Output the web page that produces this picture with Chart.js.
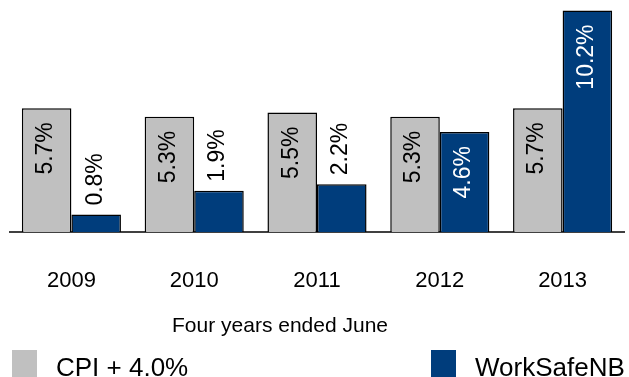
<!DOCTYPE html>
<html>
<head>
<meta charset="utf-8">
<script src="https://cdn.jsdelivr.net/npm/chart.js@4/dist/chart.umd.min.js"></script>
<style>
  html, body { margin: 0; padding: 0; background: #fff; }
  #wrap { width: 629px; height: 377px; position: relative; }
</style>
</head>
<body>
<div id="wrap"><canvas id="c"></canvas></div>
<script>
// Return growth by year, percent
const years = ['2009', '2010', '2011', '2012', '2013'];
const cpiPlus4 = [5.7, 5.3, 5.5, 5.3, 5.7];
const workSafeNB = [0.8, 1.9, 2.2, 4.6, 10.2];
const seriesNames = ['CPI + 4.0%', 'WorkSafeNB'];
const axisTitle = 'Four years ended June';

const FONT = '"Liberation Sans", Arial, Helvetica, sans-serif';
const GREY = '#C0C0C0';
const BLUE = '#003D7C';

// Rotated value labels: inside the bar top when it fits, otherwise above it
const valueLabels = {
  id: 'valueLabels',
  afterDatasetsDraw(chart) {
    const ctx = chart.ctx;
    ctx.save();
    ctx.font = '23px ' + FONT;
    ctx.textBaseline = 'middle';
    chart.data.datasets.forEach((ds, di) => {
      const meta = chart.getDatasetMeta(di);
      meta.data.forEach((bar, i) => {
        const v = ds.data[i];
        const txt = v.toFixed(1) + '%';
        const w = ctx.measureText(txt).width;
        const h = bar.base - bar.y;
        const inside = h > w + 24;
        ctx.save();
        ctx.translate(bar.x - 1, inside ? bar.y + 14 : bar.y - 9);
        ctx.rotate(-Math.PI / 2);
        if (inside) {
          ctx.textAlign = 'right';
          ctx.fillStyle = di === 1 ? '#ffffff' : '#000000';
        } else {
          ctx.textAlign = 'left';
          ctx.fillStyle = '#000000';
        }
        ctx.fillText(txt, 0, 0);
        ctx.restore();
      });
    });
    ctx.restore();
  }
};

// Axis caption and legend row under the categories
const footer = {
  id: 'footer',
  afterDraw(chart) {
    const ctx = chart.ctx;
    ctx.save();
    ctx.fillStyle = '#000';
    ctx.textBaseline = 'alphabetic';
    ctx.textAlign = 'center';
    ctx.font = '21px ' + FONT;
    ctx.fillText(axisTitle, 280, 332);

    const items = [
      { x: 12, text: chart.data.datasets[0].label, color: chart.data.datasets[0].backgroundColor },
      { x: 431, text: chart.data.datasets[1].label, color: chart.data.datasets[1].backgroundColor }
    ];
    ctx.textAlign = 'left';
    ctx.font = '26px ' + FONT;
    items.forEach(it => {
      ctx.fillStyle = it.color;
      ctx.fillRect(it.x, 350, 25, 27);
      ctx.fillStyle = '#000';
      ctx.fillText(it.text, it.x + 44, 376);
    });
    ctx.restore();
  }
};

new Chart(document.getElementById('c'), {
  type: 'bar',
  data: {
    labels: years,
    datasets: [
      {
        label: seriesNames[0],
        data: cpiPlus4,
        backgroundColor: GREY,
        borderColor: '#000',
        borderWidth: 1.5
      },
      {
        label: seriesNames[1],
        data: workSafeNB,
        backgroundColor: BLUE,
        borderColor: '#000',
        borderWidth: 1.5
      }
    ]
  },
  options: {
    responsive: true,
    maintainAspectRatio: false,
    animation: false,
    devicePixelRatio: 1,
    layout: { padding: { left: 10, right: 5, top: 0, bottom: 0 } },
    plugins: {
      legend: { display: false },
      tooltip: { enabled: false }
    },
    datasets: {
      bar: { barPercentage: 1, categoryPercentage: 0.807 }
    },
    scales: {
      x: {
        grid: { display: false, drawTicks: false },
        border: { display: true, color: '#404040', width: 2 },
        ticks: {
          color: '#000',
          font: { family: FONT, size: 22 },
          padding: 36,
          maxRotation: 0
        },
        afterFit(scale) { scale.height = 145; }
      },
      y: {
        display: false,
        min: 0,
        max: 10.68
      }
    }
  },
  plugins: [valueLabels, footer]
});
</script>
</body>
</html>
